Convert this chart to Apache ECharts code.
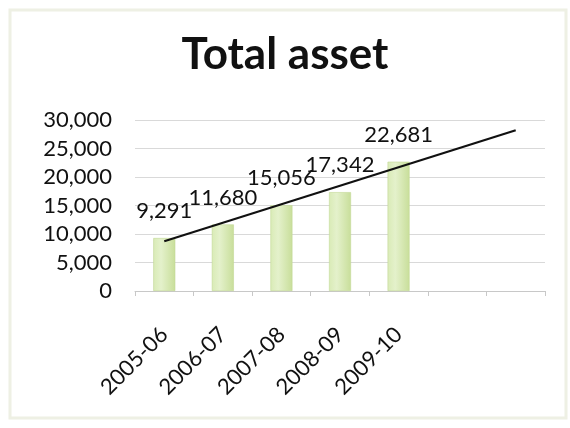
<!DOCTYPE html>
<html>
<head>
<meta charset="utf-8">
<script src="https://cdn.jsdelivr.net/npm/echarts@6/dist/echarts.min.js"></script>
<style>
  html, body { margin: 0; padding: 0; background: #ffffff; }
  #chart { width: 570px; height: 428px; }
</style>
</head>
<body>
<div id="chart"></div>
<script>
// Fiscal years on the category axis; the last two slots are left empty for the trend forecast
const categories = ['2005-06', '2006-07', '2007-08', '2008-09', '2009-10', '', ''];
// Total asset per year
const totalAsset = [9291, 11680, 15056, 17342, 22681];
// Linear trend line: start and end values (first and last category)
const trendLine = [8720, null, null, null, null, null, 28190];
// Value axis ticks
const yMin = 0, yMax = 30000, yStep = 5000;

const FONT = 'Lato, "Open Sans", sans-serif';

const chart = echarts.init(document.getElementById('chart'), null, { renderer: 'canvas' });

chart.setOption({
  backgroundColor: '#ffffff',
  animation: false,
  title: {
    text: 'Total asset',
    left: 'center',
    top: 28,
    textStyle: { fontFamily: FONT, fontWeight: 'bold', fontSize: 44, color: '#111111' }
  },
  graphic: [{
    type: 'rect',
    shape: { x: 10, y: 10, width: 556, height: 408 },
    style: { fill: 'none', stroke: '#eef0e4', lineWidth: 3 },
    silent: true
  }],
  grid: { left: 135, right: 25, top: 120, bottom: 137 },
  xAxis: {
    type: 'category',
    data: categories,
    axisLine: { lineStyle: { color: '#c8c8c8', width: 1 } },
    axisTick: { show: true, length: 5, lineStyle: { color: '#c8c8c8' } },
    axisLabel: {
      rotate: 45,
      margin: 40,
      fontFamily: FONT,
      fontSize: 22,
      color: '#111111'
    }
  },
  yAxis: {
    type: 'value',
    min: yMin,
    max: yMax,
    interval: yStep,
    axisLine: { show: false },
    axisTick: { show: false },
    splitLine: { lineStyle: { color: '#d9d9d9', width: 1 } },
    axisLabel: {
      margin: 23,
      fontFamily: FONT,
      fontSize: 22,
      color: '#111111',
      formatter: v => v.toLocaleString('en-US')
    }
  },
  series: [
    {
      type: 'bar',
      data: totalAsset,
      barWidth: 22,
      itemStyle: {
        color: new echarts.graphic.LinearGradient(0, 0, 1, 0, [
          { offset: 0, color: '#d9ebb6' },
          { offset: 0.35, color: '#e4f1cb' },
          { offset: 1, color: '#c8de9a' }
        ]),
        borderColor: '#c2d996',
        borderWidth: 0.6
      },
      label: {
        show: true,
        position: 'top',
        distance: 16,
        fontFamily: FONT,
        fontSize: 22,
        color: '#111111',
        formatter: p => p.value.toLocaleString('en-US')
      },
      z: 2
    },
    {
      type: 'line',
      data: trendLine,
      connectNulls: true,
      symbol: 'none',
      lineStyle: { color: '#111111', width: 2.2 },
      z: 3
    }
  ]
});
</script>
</body>
</html>
